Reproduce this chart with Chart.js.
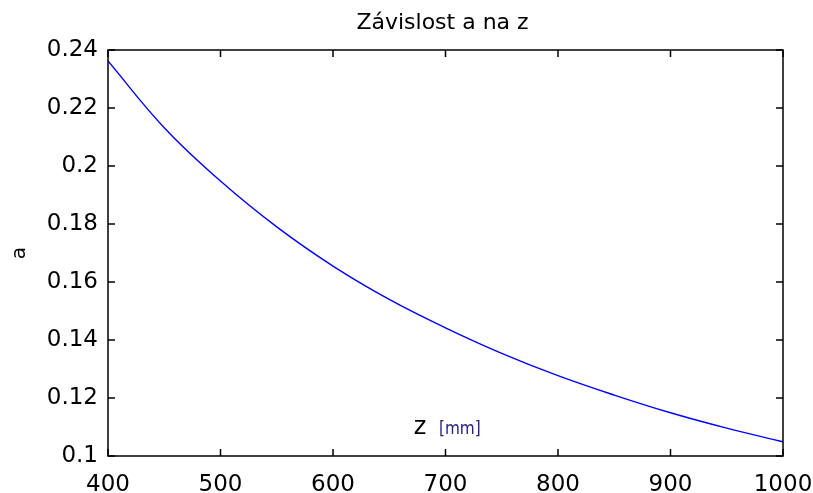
<!DOCTYPE html>
<html>
<head>
<meta charset="utf-8">
<script src="https://cdn.jsdelivr.net/npm/chart.js@4"></script>
<style>
  body { margin: 0; background: #fff; }
  #wrap { width: 813px; height: 493px; }
</style>
</head>
<body>
<div id="wrap"><canvas id="myChart" width="813" height="493"></canvas></div>
<script>
// z in mm
const zValues = [400, 450, 500, 550, 600, 650, 700, 750, 800, 850, 900, 950, 1000];
const aValues = [0.2362, 0.2132, 0.1948, 0.1790, 0.1655, 0.1540, 0.1442, 0.1354, 0.1277, 0.1210, 0.1149, 0.1096, 0.1049];
const xTicks = [400, 500, 600, 700, 800, 900, 1000];
const yTicks = [0.1, 0.12, 0.14, 0.16, 0.18, 0.2, 0.22, 0.24];
const yTickLabels = ["0.1", "0.12", "0.14", "0.16", "0.18", "0.2", "0.22", "0.24"];

const FONT = '"DejaVu Sans", sans-serif';
const TICK = 7;

// MATLAB style box with inward ticks, title and the in-axes x label
const matlabBox = {
  id: "matlabBox",
  afterDatasetsDraw(chart) {
    const { ctx, chartArea: a, scales } = chart;
    const x = scales.x, y = scales.y;
    ctx.save();
    ctx.strokeStyle = "#000";
    ctx.lineWidth = 1.5;
    ctx.strokeRect(a.left, a.top, a.right - a.left, a.bottom - a.top);
    ctx.beginPath();
    x.ticks.forEach((t) => {
      const px = x.getPixelForValue(t.value);
      ctx.moveTo(px, a.bottom);
      ctx.lineTo(px, a.bottom - TICK);
      ctx.moveTo(px, a.top);
      ctx.lineTo(px, a.top + TICK);
    });
    y.ticks.forEach((t) => {
      const py = y.getPixelForValue(t.value);
      ctx.moveTo(a.left, py);
      ctx.lineTo(a.left + TICK, py);
      ctx.moveTo(a.right, py);
      ctx.lineTo(a.right - TICK, py);
    });
    ctx.stroke();

    // title
    ctx.fillStyle = "#000";
    ctx.textAlign = "center";
    ctx.textBaseline = "alphabetic";
    ctx.font = "22px " + FONT;
    ctx.fillText("Závislost a na z", (a.left + a.right) / 2 - 3, 29);

    // x label sits inside the axes
    ctx.font = "24px " + FONT;
    ctx.fillText("z", 420, 434);
    ctx.textAlign = "left";
    ctx.fillStyle = "#23238e";
    ctx.font = '17px "DejaVu Sans Condensed", "DejaVu Sans", sans-serif';
    ctx.fillText("[mm]", 439, 434);
    ctx.restore();
  },
};

const ctx = document.getElementById("myChart").getContext("2d");
new Chart(ctx, {
  type: "line",
  data: {
    datasets: [
      {
        label: "a",
        data: zValues.map((z, i) => ({ x: z, y: aValues[i] })),
        borderColor: "#0000ff",
        borderWidth: 1.4,
        pointRadius: 0,
        fill: false,
        tension: 0.4,
      },
    ],
  },
  options: {
    responsive: false,
    animation: false,
    layout: { padding: { top: 50, right: 30, bottom: 0, left: 0 } },
    plugins: {
      legend: { display: false },
      tooltip: { enabled: false },
      title: { display: false },
    },
    scales: {
      x: {
        type: "linear",
        min: 400,
        max: 1000,
        afterBuildTicks: (scale) => {
          scale.ticks = xTicks.map((v) => ({ value: v }));
        },
        afterFit: (scale) => {
          scale.height = 37;
          scale.paddingRight = 30;
        },
        grid: { display: false, drawTicks: false },
        border: { display: false },
        ticks: {
          color: "#000",
          font: { family: FONT, size: 23 },
          padding: 15,
          maxRotation: 0,
          autoSkip: false,
          callback: (v) => String(v),
        },
      },
      y: {
        type: "linear",
        min: 0.1,
        max: 0.24,
        afterBuildTicks: (scale) => {
          scale.ticks = yTicks.map((v) => ({ value: v }));
        },
        afterFit: (scale) => {
          scale.width = 108;
        },
        grid: { display: false, drawTicks: false },
        border: { display: false },
        title: {
          display: true,
          text: "a",
          color: "#000",
          font: { family: FONT, size: 20 },
          padding: { top: 8, bottom: 5 },
        },
        ticks: {
          color: "#000",
          font: { family: FONT, size: 23 },
          padding: 10,
          autoSkip: false,
          callback: (v) => yTickLabels[yTicks.findIndex((t) => Math.abs(t - v) < 1e-9)],
        },
      },
    },
  },
  plugins: [matlabBox],
});
</script>
</body>
</html>
